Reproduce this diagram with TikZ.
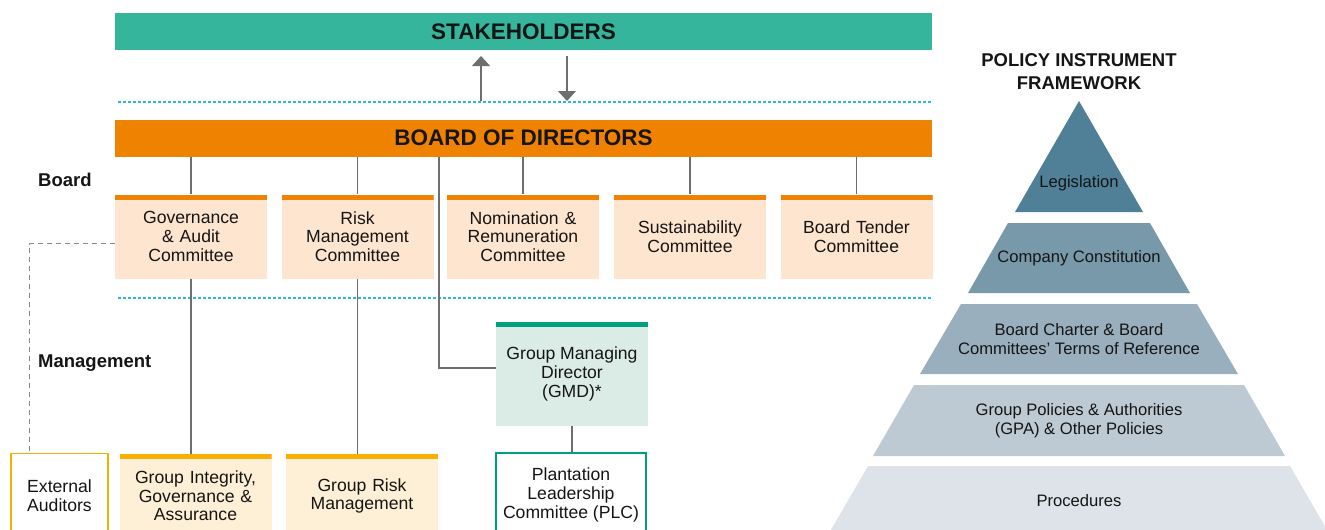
\documentclass[tikz,border=0pt]{standalone}
\usepackage{fontspec}
\setmainfont{Liberation Sans}
\usetikzlibrary{arrows.meta}
\definecolor{tealbar}{HTML}{34B59C}
\definecolor{orangebar}{HTML}{EF8200}
\definecolor{peach}{HTML}{FDE5CF}
\definecolor{cream}{HTML}{FEF0D6}
\definecolor{yellowbar}{HTML}{F8B000}
\definecolor{gmdfill}{HTML}{DBECE6}
\definecolor{greenbar}{HTML}{00A07E}
\definecolor{cyandot}{HTML}{2BB6E0}
\definecolor{linegray}{HTML}{6E6E6E}
\definecolor{dashgray}{HTML}{8A8A8A}
\definecolor{txt}{HTML}{151515}
\definecolor{pyA}{HTML}{4F8098}
\definecolor{pyB}{HTML}{7899A9}
\definecolor{pyC}{HTML}{9AAFBD}
\definecolor{pyD}{HTML}{BDCAD3}
\definecolor{pyE}{HTML}{DEE3EA}
\tikzset{
  bigbar/.style={rectangle, minimum width=817pt, minimum height=37pt, inner sep=0pt,
    font=\bfseries\fontsize{22.5}{24}\selectfont, text=txt},
  topbar/.style={path picture={\fill[#1] (path picture bounding box.north west) rectangle ([yshift=-5pt]path picture bounding box.north east);}},
  comm/.style={rectangle, fill=peach, topbar=orangebar, minimum width=152pt, minimum height=84pt,
    inner sep=0pt, align=center, text width=150pt, text=txt, font=\fontsize{17.6}{18.6}\selectfont},
  mgmt/.style={rectangle, fill=cream, topbar=yellowbar, minimum width=152pt, minimum height=84pt,
    inner sep=0pt, align=center, text width=150pt, text=txt, font=\fontsize{17.6}{18.6}\selectfont},
  outbox/.style={rectangle, draw=#1, fill=white, line width=1.2pt, inner sep=0pt, align=center,
    text=txt, font=\fontsize{17.6}{18.6}\selectfont},
  sidelabel/.style={anchor=west, inner sep=0pt, text=txt, font=\bfseries\fontsize{18.5}{20}\selectfont},
  conn/.style={draw=linegray, line width=1.2pt},
  flowarrow/.style={draw=linegray, fill=linegray, line width=1.3pt, -{Triangle[width=18pt,length=10pt]}},
  dotline/.style={draw=cyandot, line width=1.2pt, dash pattern=on 3pt off 2pt},
  dashconn/.style={draw=dashgray, line width=1.2pt, dash pattern=on 5pt off 4pt},
  pytext/.style={align=center, inner sep=0pt, text=txt, font=\fontsize{16.6}{19}\selectfont},
}
\begin{document}
\begin{tikzpicture}[x=1pt,y=-1pt]
\useasboundingbox (0,0) rectangle (1325,530);
\clip (0,0) rectangle (1325,530);

% top bars
\node[bigbar, fill=tealbar] (sh) at (523.5,31.5) {STAKEHOLDERS};
\node[bigbar, fill=orangebar] (bod) at (523.5,138) {BOARD OF DIRECTORS};

% dotted separators
\coordinate (dotA1) at (118,102);
\coordinate (dotA2) at (932,102);
\coordinate (dotB1) at (118,298);
\coordinate (dotB2) at (932,298);
\draw[dotline] (dotA1) -- (dotA2);
\draw[dotline] (dotB1) -- (dotB2);

% arrows between stakeholders and board
\coordinate (upstart) at (481,101);
\coordinate (uptip) at (481,56);
\coordinate (downstart) at (567,56);
\coordinate (downtip) at (567,101);
\draw[flowarrow] (upstart) -- (uptip);
\draw[flowarrow] (downstart) -- (downtip);

% side labels
\node[sidelabel] (lblboard) at (38,180) {Board};
\node[sidelabel] (lblmgmt) at (38,363) {Management};

% committees
\node[comm] (c1) at (191,236.5) {Governance\\ \& Audit\\ Committee};
\node[comm] (c2) at (357.5,236.5) {Risk\\ Management\\ Committee};
\node[comm] (c3) at (523,236.5) {Nomination \&\\ Remuneration\\ Committee};
\node[comm] (c4) at (690,236.5) {Sustainability\\ Committee};
\node[comm] (c5) at (856.5,236.5) {Board Tender\\ Committee};
\foreach \c in {c1,c2,c3,c4,c5}{\draw[conn] (\c.north |- bod.south) -- (\c.north);}

% management level
\node[rectangle, fill=gmdfill, topbar=greenbar, minimum width=152pt, minimum height=104pt,
  inner sep=0pt, align=center, text=txt, font=\fontsize{17.6}{18.6}\selectfont] (gmd) at (572,374)
  {Group Managing\\ Director\\ (GMD)*};
\node[mgmt] (gi) at (195.5,496) {Group Integrity,\\ Governance \&\\ Assurance};
\node[mgmt] (gr) at (362,496) {Group Risk\\ Management};
\node[outbox=yellowbar, minimum width=97pt, minimum height=84pt] (ea) at (59.5,495.5) {External\\ Auditors};
\node[outbox=greenbar, minimum width=150pt, minimum height=84pt] (plc) at (571,495) {Plantation\\ Leadership\\ Committee (PLC)};

\coordinate (gmdbranch) at (439,157);
\draw[conn] (gmdbranch) |- ([yshift=6pt]gmd.west);
\draw[conn] (c1.south) -- (c1.south |- gi.north);
\draw[conn] (c2.south) -- (c2.south |- gr.north);
\draw[conn] (gmd.south) -- (gmd.south |- plc.north);
\draw[dashconn] ([yshift=-7pt]c1.west) -| ([xshift=19pt]ea.north west);

% pyramid
\node[align=center, inner sep=0pt, text=txt, font=\bfseries\fontsize{18.5}{23}\selectfont] (ptitle) at (1079,71.5) {POLICY INSTRUMENT\\ FRAMEWORK};
\fill[pyA] (1079,101) -- (1143,212) -- (1015,212) -- cycle;
\fill[pyB] (1008,223) -- (1150,223) -- (1190,293) -- (968,293) -- cycle;
\fill[pyC] (961,304) -- (1197,304) -- (1238,374) -- (920,374) -- cycle;
\fill[pyD] (914,385) -- (1244,385) -- (1285,456) -- (873,456) -- cycle;
\fill[pyE] (868,466) -- (1290,466) -- (1330,535) -- (828,535) -- cycle;
\node[pytext] (p1) at (1079,183) {Legislation};
\node[pytext] (p2) at (1079,258) {Company Constitution};
\node[pytext] (p3) at (1079,339.5) {Board Charter \& Board\\ Committees’ Terms of Reference};
\node[pytext] (p4) at (1079,420.5) {Group Policies \& Authorities\\ (GPA) \& Other Policies};
\node[pytext] (p5) at (1079,501) {Procedures};
\end{tikzpicture}
\end{document}
